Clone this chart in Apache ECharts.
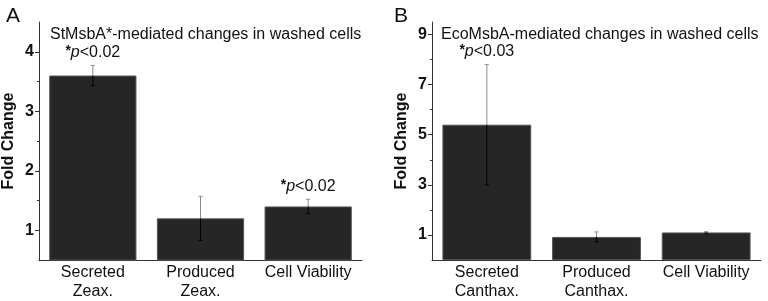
<!DOCTYPE html>
<html>
<head>
<meta charset="utf-8">
<script src="https://cdn.jsdelivr.net/npm/echarts@6/dist/echarts.min.js"></script>
<style>
  html, body { margin: 0; padding: 0; background: #fff; }
  #chart { width: 768px; height: 301px; }
</style>
</head>
<body>
<div id="chart"></div>
<script>
// panel A - StMsbA*
var catsA = ['Secreted\nZeax.', 'Produced\nZeax.', 'Cell Viability'];
var valsA = [3.6, 1.2, 1.4];
var errA = [0.17, 0.37, 0.12];
var sigA = ['0.02', '', '0.02'];
var ticksA = [1, 2, 3, 4];
var minorA = [1.5, 2.5, 3.5];

// panel B - EcoMsbA
var catsB = ['Secreted\nCanthax.', 'Produced\nCanthax.', 'Cell Viability'];
var valsB = [5.4, 0.92, 1.1];
var errB = [2.4, 0.2, 0.03];
var sigB = ['0.03', '', ''];
var ticksB = [1, 3, 5, 7, 9];
var minorB = [2, 4, 6, 8];

var FONT = '"Liberation Sans", Arial, sans-serif';
var INK = '#111';

function errItem(sig) {
    return function (params, api) {
        var i = api.value(0), v = api.value(1), e = api.value(2);
        var top = api.coord([i, v + e]);
        var mid = api.coord([i, v]);
        var bot = api.coord([i, v - e]);
        var x = top[0];
        var kids = [
            {type: 'line', shape: {x1: x, y1: top[1], x2: x, y2: mid[1]}, style: {stroke: '#8c8c8c', lineWidth: 1}},
            {type: 'line', shape: {x1: x, y1: mid[1], x2: x, y2: bot[1]}, style: {stroke: '#000', lineWidth: 1}},
            {type: 'line', shape: {x1: x - 2, y1: top[1], x2: x + 2, y2: top[1]}, style: {stroke: '#8c8c8c', lineWidth: 1}},
            {type: 'line', shape: {x1: x - 2, y1: bot[1], x2: x + 2, y2: bot[1]}, style: {stroke: bot[1] > mid[1] ? '#000' : '#8c8c8c', lineWidth: 1}}
        ];
        var s = sig[params.dataIndex];
        if (s) {
            kids.push({
                type: 'text',
                x: x, y: top[1] - 5,
                style: {
                    text: '{a|*}{b|p}{c|<' + s + '}',
                    align: 'center', verticalAlign: 'bottom',
                    rich: {
                        a: {fontSize: 14, fontWeight: 'bold', fontFamily: FONT, fill: INK, verticalAlign: 'top'},
                        b: {fontSize: 16, fontFamily: FONT, fontStyle: 'italic', fill: INK},
                        c: {fontSize: 16, fontFamily: FONT, fill: INK}
                    }
                }
            });
        }
        return {type: 'group', children: kids};
    };
}

function errData(vals, errs) {
    return vals.map(function (v, i) { return [i, v, errs[i]]; });
}

function xAx(grid, cats) {
    return {
        type: 'category', gridIndex: grid, data: cats,
        axisLine: {lineStyle: {color: '#333', width: 1}},
        axisTick: {show: false},
        axisLabel: {color: INK, fontSize: 16, fontFamily: FONT, lineHeight: 19, margin: 3, interval: 0}
    };
}

function yAx(grid, min, max, ticks, withName) {
    return {
        type: 'value', gridIndex: grid, min: min, max: max, position: 'left',
        name: withName ? 'Fold Change' : '',
        nameLocation: 'middle', nameGap: 22,
        nameTextStyle: {color: INK, fontSize: 16, fontWeight: 'bold', fontFamily: FONT},
        splitLine: {show: false},
        axisLine: {show: withName, lineStyle: {color: '#333', width: 1}},
        axisTick: {show: true, inside: false, length: withName ? 4 : 2, customValues: ticks, lineStyle: {color: '#333'}},
        axisLabel: {show: withName, customValues: ticks, color: INK, fontSize: 16, fontWeight: 'bold', fontFamily: FONT, margin: 5}
    };
}

var chart = echarts.init(document.getElementById('chart'));
var option = {
    animation: false,
    title: [
        {text: 'A', left: 1, top: 1, textStyle: {fontSize: 21, fontWeight: 'normal', color: INK, fontFamily: FONT}},
        {text: 'B', left: 389, top: 1, textStyle: {fontSize: 21, fontWeight: 'normal', color: INK, fontFamily: FONT}},
        {text: 'StMsbA*-mediated changes in washed cells', left: 45, top: 22, textStyle: {fontSize: 16, fontWeight: 'normal', color: INK, fontFamily: FONT}},
        {text: 'EcoMsbA-mediated changes in washed cells', left: 436, top: 22, textStyle: {fontSize: 16, fontWeight: 'normal', color: INK, fontFamily: FONT}}
    ],
    grid: [
        {left: 36, top: 22, width: 326, height: 243},
        {left: 432, top: 22, width: 329, height: 244}
    ],
    xAxis: [xAx(0, catsA), xAx(1, catsB)],
    yAxis: [
        yAx(0, 0.5, 4.5, ticksA, true),
        yAx(0, 0.5, 4.5, minorA, false),
        yAx(1, 0, 9.5, ticksB, true),
        yAx(1, 0, 9.5, minorB, false)
    ],
    series: [
        {
            type: 'bar', xAxisIndex: 0, yAxisIndex: 0, data: valsA, barWidth: '81%', clip: true,
            itemStyle: {color: '#262626', borderColor: '#555', borderWidth: 1}
        },
        {
            type: 'custom', xAxisIndex: 0, yAxisIndex: 0, data: errData(valsA, errA),
            renderItem: errItem(sigA), z: 5
        },
        {
            type: 'bar', xAxisIndex: 1, yAxisIndex: 2, data: valsB, barWidth: '81%', clip: true,
            itemStyle: {color: '#262626', borderColor: '#555', borderWidth: 1}
        },
        {
            type: 'custom', xAxisIndex: 1, yAxisIndex: 2, data: errData(valsB, errB),
            renderItem: errItem(sigB), z: 5
        }
    ]
};
chart.setOption(option);
</script>
</body>
</html>
